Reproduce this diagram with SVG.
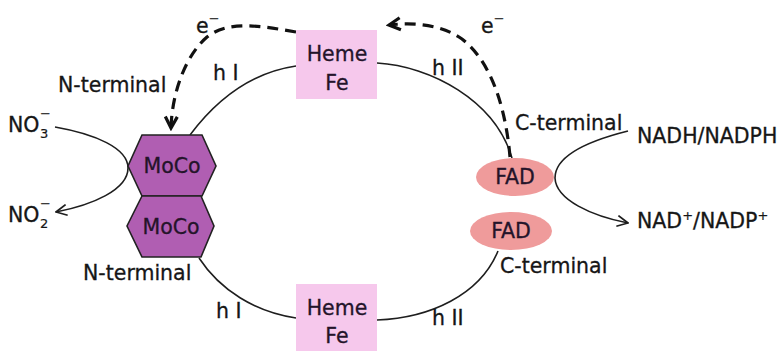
<svg xmlns="http://www.w3.org/2000/svg" width="781" height="351" viewBox="0 0 781 351">
<defs>
<style>
text{font-family:"DejaVu Sans","Liberation Sans",sans-serif;font-size:20.5px;fill:#161616;stroke:#161616;stroke-width:0.3}
.lbl{fill:#24142a;stroke:#24142a;text-anchor:middle}
.sm{font-size:13px;stroke-width:0.2}
.line{fill:none;stroke:#1e1e1e;stroke-width:1.6}
.dash{fill:none;stroke:#111;stroke-width:3.2;stroke-dasharray:11 7}
.moco{fill:#b05eb2;stroke:#222;stroke-width:1.6}
.heme{fill:#f6c8ec}
.fad{fill:#ef9b9b}
</style>
<marker id="ah" viewBox="0 0 12 12" refX="11" refY="6" markerWidth="13" markerHeight="13" markerUnits="userSpaceOnUse" orient="auto">
<path d="M1,1 L11,6 L1,11" fill="none" stroke="#1e1e1e" stroke-width="1.6"/>
</marker>
<marker id="ahd" viewBox="0 0 12 12" refX="10" refY="6" markerWidth="16" markerHeight="16" markerUnits="userSpaceOnUse" orient="auto">
<path d="M1.5,1.5 L10,6 L1.5,10.5" fill="none" stroke="#111" stroke-width="2.4" stroke-dasharray="none"/>
</marker>
</defs>
<rect width="781" height="351" fill="#ffffff"/>

<g id="connectors">
<path class="line" d="M190 135 C220 95 255 72 296 66"/>
<path class="line" d="M377 63 C430 66 495 100 512 158"/>
<path class="line" d="M199 258 C220 290 255 312 296 318"/>
<path class="line" d="M377 320 C430 318 480 295 498 251"/>
<path class="line" marker-end="url(#ah)" d="M55 127 C95 134 128 148 128 168 C128 190 92 205 56 212"/>
<path class="line" marker-end="url(#ah)" d="M628 131 C592 140 555 155 555 178 C556 200 592 216 628 223"/>
<path class="dash" marker-end="url(#ahd)" d="M296 32 C262 26 228 20 207 37 C186 55 172 92 171 128"/>
<path class="dash" marker-end="url(#ahd)" d="M510 157 C506 110 492 62 462 39 C442 25 416 22 389 25"/>
</g>

<g id="moco-top">
<polygon class="moco" points="142,135 202,135 216,166 202,196 142,196 128,166"/>
<text class="lbl" x="172" y="173">MoCo</text>
</g>
<g id="moco-bottom">
<polygon class="moco" points="142,196 201,196 214,226 201,257 142,257 127,226"/>
<text class="lbl" x="171" y="234">MoCo</text>
</g>
<g id="heme-top">
<rect class="heme" x="296" y="30" width="81" height="69"/>
<text class="lbl" x="337" y="61">Heme</text>
<text class="lbl" x="337" y="90">Fe</text>
</g>
<g id="heme-bottom">
<rect class="heme" x="296" y="284" width="81" height="67"/>
<text class="lbl" x="337" y="315">Heme</text>
<text class="lbl" x="337" y="343">Fe</text>
</g>
<g id="fad-top">
<ellipse class="fad" cx="515" cy="177" rx="39" ry="19"/>
<text class="lbl" x="515" y="184">FAD</text>
</g>
<g id="fad-bottom">
<ellipse class="fad" cx="511" cy="231" rx="41" ry="19"/>
<text class="lbl" x="511" y="238">FAD</text>
</g>

<g id="labels">
<text x="196" y="33">e<tspan class="sm" dy="-10">−</tspan></text>
<text x="481" y="33">e<tspan class="sm" dy="-10">−</tspan></text>
<text x="213" y="80">h I</text>
<text x="432" y="75">h II</text>
<text x="216" y="318">h I</text>
<text x="432" y="325">h II</text>
<text x="58" y="92">N-terminal</text>
<text x="83" y="280">N-terminal</text>
<text x="515" y="130">C-terminal</text>
<text x="500" y="273">C-terminal</text>
<text x="8" y="132">NO<tspan class="sm" x="40" y="138">3</tspan><tspan class="sm" x="40" y="118">−</tspan></text>
<text x="8" y="222">NO<tspan class="sm" x="40" y="228">2</tspan><tspan class="sm" x="40" y="208">−</tspan></text>
<text x="637" y="143">NADH/NADPH</text>
<text x="637" y="228">NAD<tspan class="sm" dy="-8">+</tspan><tspan dy="8">/NADP</tspan><tspan class="sm" dy="-8">+</tspan></text>
</g>
</svg>
